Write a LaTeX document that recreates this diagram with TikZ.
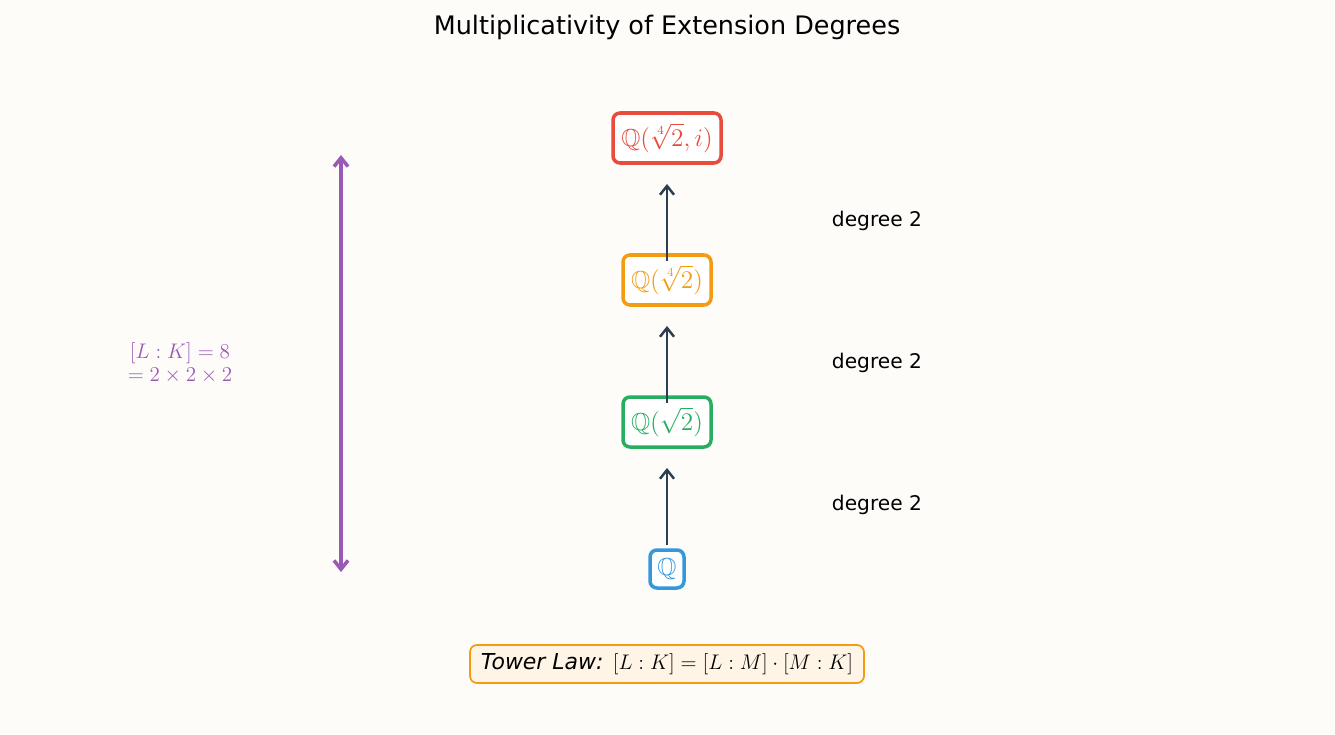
\documentclass[tikz,border=0pt]{standalone}
\usepackage{amssymb}
\usepackage{fontspec}
\setmainfont{DejaVu Sans}
\usetikzlibrary{arrows.meta}
\definecolor{bg}{HTML}{FDFCF9}
\definecolor{cb}{HTML}{3498DB}
\definecolor{cg}{HTML}{27AE60}
\definecolor{co}{HTML}{F39C12}
\definecolor{cr}{HTML}{E74C3C}
\definecolor{cd}{HTML}{2C3E50}
\definecolor{cp}{HTML}{9B59B6}
\begin{document}
\begin{tikzpicture}[x=0.02cm,y=-0.02cm,
 fld/.style={draw=#1,text=#1,line width=2pt,rounded corners=4pt,fill=white,font=\fontsize{14}{16}\selectfont,inner sep=0pt,minimum height=50*0.02cm},
 up/.style={draw=cd,line width=1.4pt,-{Straight Barb[length=5pt,width=8pt]}},
 deg/.style={font=\fontsize{11.5}{14}\selectfont}]
\fill[bg] (0,0) rectangle (1335,734);
\node[font=\fontsize{14.5}{17}\selectfont] (title) at (667,27) {Multiplicativity of Extension Degrees};
\node[fld=cb,minimum width=34*0.02cm,minimum height=38*0.02cm] (q) at (667,569) {$\mathbb{Q}$};
\node[fld=cg,minimum width=88*0.02cm] (q2) at (667,422) {$\mathbb{Q}(\sqrt{2})$};
\node[fld=co,minimum width=88*0.02cm] (q4) at (667,280) {$\mathbb{Q}(\sqrt[4]{2})$};
\node[fld=cr,minimum width=108*0.02cm] (qi) at (667,138) {$\mathbb{Q}(\sqrt[4]{2},i)$};
\coordinate (a1) at (667,545); \coordinate (b1) at (667,468);
\coordinate (a2) at (667,403); \coordinate (b2) at (667,326);
\coordinate (a3) at (667,261); \coordinate (b3) at (667,184);
\draw[up] (a1) -- (b1);
\draw[up] (a2) -- (b2);
\draw[up] (a3) -- (b3);
\node[deg] (d1) at (877,505) {degree 2};
\node[deg] (d2) at (877,363) {degree 2};
\node[deg] (d3) at (877,221) {degree 2};
\coordinate (p1) at (341,155); \coordinate (p2) at (341,572);
\draw[cp,line width=2pt,{Straight Barb[length=5pt,width=8pt]}-{Straight Barb[length=5pt,width=8pt]}] (p2) -- (p1);
\node[text=cp,font=\fontsize{12.5}{13}\selectfont,align=center] (deg) at (180,363) {$[L:K]=8$\\$=2\times2\times2$};
\node[draw=co,line width=1pt,fill=co!10,rounded corners=4pt,font=\fontsize{12.5}{15}\selectfont,minimum height=38*0.02cm,minimum width=394*0.02cm] (law) at (667,664) {\textit{Tower Law:} $[L:K]=[L:M]\cdot[M:K]$};
\end{tikzpicture}
\end{document}
